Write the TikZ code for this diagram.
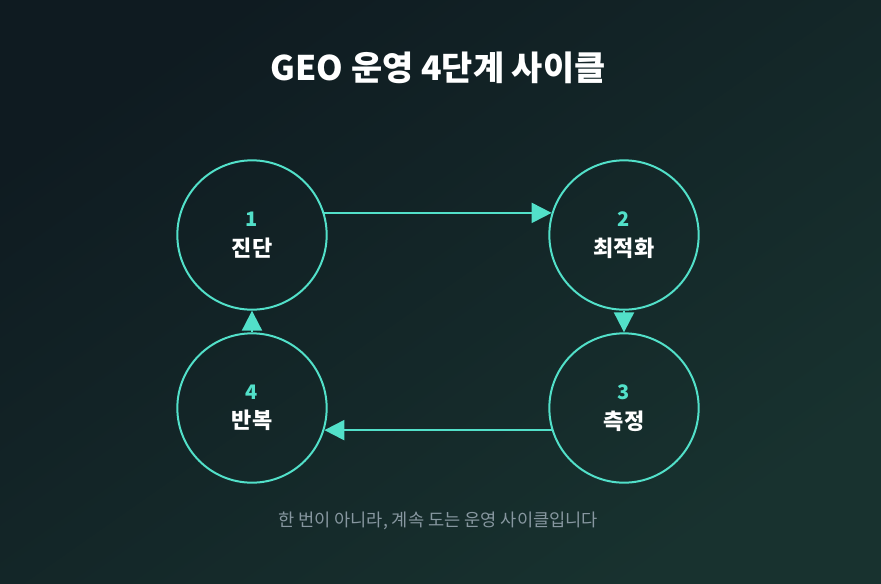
\documentclass[tikz,border=0pt]{standalone}
\usepackage{fontspec}
\setmainfont{Noto Sans CJK KR}
\usetikzlibrary{arrows.meta}
\definecolor{bgtop}{HTML}{0F1B21}
\definecolor{bgbot}{HTML}{18322F}
\definecolor{mint}{HTML}{52E0C9}
\definecolor{muted}{HTML}{8797A0}
\newcommand{\stagenum}[1]{{\color{mint}\fontsize{15}{18}\selectfont #1}}
\begin{document}
\begin{tikzpicture}[x=0.75pt, y=-0.75pt, >={Triangle[length=15pt, width=15pt]},
          stage/.style={circle, draw=mint, line width=1.5pt, minimum size=112pt, inner sep=0pt,
                       align=center, text=white, font=\fontsize{16.5}{22}\selectfont\bfseries},
          flow/.style={->, draw=mint, fill=mint, line width=1.5pt}]
        \shade[top color=bgtop, bottom color=bgbot, shading angle=35] (0,0) rectangle (881,583);
        \useasboundingbox (0,0) rectangle (881,583);
        \coordinate (p1) at (252,235);
        \coordinate (p2) at (624,235);
        \coordinate (p3) at (624,408);
        \coordinate (p4) at (252,408);
        \node[text=white, font=\fontsize{25.4}{30}\selectfont\bfseries] (title) at (438,68) {GEO 운영 4단계 사이클};
        \node[stage] (c1) at (p1) {\stagenum{1}\\진단};
        \node[stage] (c2) at (p2) {\stagenum{2}\\최적화};
        \node[stage] (c3) at (p3) {\stagenum{3}\\측정};
        \node[stage] (c4) at (p4) {\stagenum{4}\\반복};
        \draw[flow] (c1.17) -- (c2.163);
        \draw[flow] (c2.south) -- (c3.north);
        \draw[flow] (c3.197) -- (c4.-17);
        \draw[flow] (c4.north) -- (c1.south);
        \node[text=muted, font=\fontsize{13.2}{16}\selectfont] (note) at (438,521) {한 번이 아니라, 계속 도는 운영 사이클입니다};
      \end{tikzpicture}
\end{document}
